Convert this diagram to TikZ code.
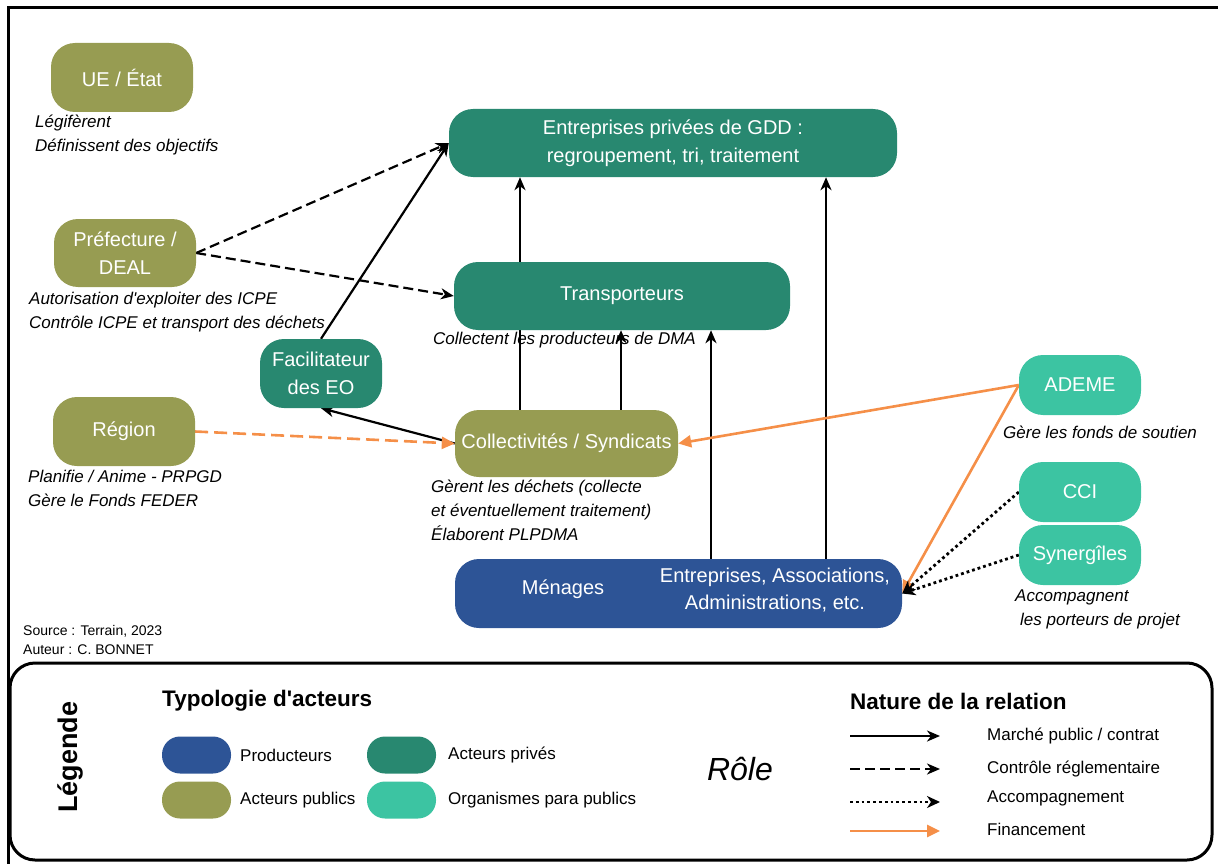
\documentclass[tikz,border=0pt]{standalone}
\usepackage{fontspec}
\setmainfont{Liberation Sans}
\usetikzlibrary{arrows.meta,backgrounds,calc}
\definecolor{pubc}{RGB}{151,156,82}
\definecolor{privc}{RGB}{40,136,112}
\definecolor{parac}{RGB}{60,196,162}
\definecolor{prodc}{RGB}{45,84,150}
\definecolor{finc}{RGB}{245,143,72}
\tikzset{
  box/.style={rounded corners=24pt, text=white, align=center, inner sep=0pt,
    font=\fontsize{20}{28}\selectfont},
  pub/.style={box, fill=pubc},
  priv/.style={box, fill=privc},
  para/.style={box, fill=parac},
  prod/.style={box, fill=prodc},
  boxtext/.style={text=white, align=center, inner sep=0pt, font=\fontsize{20}{27}\selectfont},
  desc/.style={anchor=west, align=left, inner sep=0pt, font=\fontsize{17}{24}\selectfont\itshape},
  small/.style={anchor=west, align=left, inner sep=0pt, font=\fontsize{14}{19}\selectfont},
  swatch/.style={rounded corners=18pt, minimum width=69pt, minimum height=37pt, inner sep=0pt},
  legtext/.style={anchor=west, inner sep=0pt, font=\fontsize{17}{20}\selectfont},
  legtitle/.style={anchor=west, inner sep=0pt, font=\fontsize{22.5}{26}\selectfont\bfseries},
  mp/.style={line width=2.2pt, -{Stealth[length=13pt,width=11pt,inset=4pt]}},
  ctrl/.style={mp, dash pattern=on 10pt off 5pt},
  acc/.style={line width=2.8pt, dash pattern=on 2.8pt off 3pt, -{Stealth[length=13pt,width=12pt,inset=4pt]}},
  fin/.style={draw=finc, line width=2.6pt, -{Triangle[length=13pt,width=12pt]}, finc},
  findash/.style={fin, dash pattern=on 13pt off 6pt},
}
\begin{document}
\begin{tikzpicture}[x=1pt,y=-1pt]
\useasboundingbox (0,0) rectangle (1218,864);
% outer frame
\coordinate (fr1) at (8,1000);
\coordinate (fr2) at (8,8);
\coordinate (fr3) at (1300,8);
\draw[line width=3pt] (fr1) -- (fr2) -- (fr3);

% actor boxes
\node[pub, minimum width=142pt, minimum height=69pt] (ue) at (122,77.5) {UE / État};
\node[pub, minimum width=142pt, minimum height=68pt] (pref) at (125,253) {Préfecture /\\DEAL};
\node[priv, minimum width=448pt, minimum height=68pt] (ent) at (673,143) {Entreprises privées de GDD :\\regroupement, tri, traitement};
\node[priv, minimum width=336pt, minimum height=68pt] (tra) at (622,296) {Transporteurs};
\node[priv, minimum width=122pt, minimum height=69pt] (fac) at (321,373.5) {Facilitateur\\des EO};
\node[pub, minimum width=142pt, minimum height=69pt] (reg) at (124,431.5) {Région};
\node[pub, minimum width=223pt, minimum height=67pt] (col) at (566.5,443.5) {Collectivités / Syndicats};
\node[prod, minimum width=447pt, minimum height=69pt] (men) at (678.5,593.5) {};
\node[boxtext] (mena) at (563,589) {Ménages};
\node[boxtext] (entr) at (775,590) {Entreprises, Associations,\\Administrations, etc.};
\node[para, minimum width=122pt, minimum height=60pt] (ade) at (1080,385) {ADEME};
\node[para, minimum width=122pt, minimum height=60pt] (cci) at (1080,492) {CCI};
\node[para, minimum width=122pt, minimum height=60pt] (syn) at (1080,555) {Synergîles};

\begin{scope}[on background layer]
% descriptions
\node[desc] (due) at (35,135) {Légifèrent\\Définissent des objectifs};
\node[desc] (dpref) at (29,312) {Autorisation d\textquotesingle exploiter des ICPE\\Contrôle ICPE et transport des déchets};
\node[desc] (dtra) at (433,340) {Collectent les producteurs de DMA};
\node[desc] (dreg) at (28,488) {Planifie / Anime - PRPGD\\Gère le Fonds FEDER};
\node[desc] (dcol) at (431,510) {Gèrent les déchets (collecte\\et éventuellement traitement)\\Élaborent PLPDMA};
\node[desc] (dade) at (1003,432) {Gère les fonds de soutien};
\node[desc] (dacc) at (1015,609) {Accompagnent\\\hspace*{5pt}les porteurs de projet};
% connectors
\draw[ctrl] (pref.east) -- (ent.west);
\draw[ctrl] (pref.east) -- (tra.west);
\draw[mp] (fac.north) -- (ent.west);
\draw[mp] (col.west) -- (fac.south);
\draw[findash] (reg.east) -- (col.west);
\draw[mp] (520,0 |- col.north) -- (520,0 |- ent.south);
\draw[mp] (621,0 |- col.north) -- (621,0 |- tra.south);
\draw[mp] (711,0 |- men.north) -- (711,0 |- tra.south);
\draw[mp] (826,0 |- men.north) -- (826,0 |- ent.south);
\draw[fin] (ade.west) -- (col.east);
\draw[fin] (ade.west) -- (men.east);
\draw[acc] (cci.west) -- (men.east);
\draw[acc] (syn.west) -- (men.east);
\end{scope}

% source
\node[small] (src) at (23,640) {Source : Terrain, 2023\\Auteur : C. BONNET};

% legend
\draw[line width=3pt, rounded corners=25pt] (10,663) rectangle (1212,860);
\node[rotate=90, inner sep=0pt, font=\fontsize{27}{30}\selectfont\bfseries] (leg) at (70,757) {Légende};
\node[legtitle] (typ) at (162,701) {Typologie d\textquotesingle acteurs};
\node[swatch, fill=prodc] (sw1) at (196.5,755) {};
\node[swatch, fill=privc] (sw2) at (401.5,755) {};
\node[swatch, fill=pubc] (sw3) at (196.5,800) {};
\node[swatch, fill=parac] (sw4) at (401.5,800) {};
\node[legtext] (t1) at (240,755) {Producteurs};
\node[legtext] (t2) at (448,755) {Acteurs privés};
\node[legtext] (t3) at (240,800) {Acteurs publics};
\node[legtext] (t4) at (448,800) {Organismes para publics};
\node[inner sep=0pt, font=\fontsize{32}{36}\selectfont\itshape] (role) at (740,769) {Rôle};
\node[legtitle] (nat) at (850,701) {Nature de la relation};
\coordinate (a1) at (850,736); \coordinate (b1) at (940,736);
\coordinate (a2) at (850,769); \coordinate (b2) at (940,769);
\coordinate (a3) at (850,802); \coordinate (b3) at (940,802);
\coordinate (a4) at (850,831); \coordinate (b4) at (940,831);
\draw[mp] (a1) -- (b1);
\draw[ctrl] (a2) -- (b2);
\draw[acc] (a3) -- (b3);
\draw[fin] (a4) -- (b4);
\node[legtext] (r1) at (987,736) {Marché public / contrat};
\node[legtext] (r2) at (987,769) {Contrôle réglementaire};
\node[legtext] (r3) at (987,798) {Accompagnement};
\node[legtext] (r4) at (987,829) {Financement};
\end{tikzpicture}
\end{document}
